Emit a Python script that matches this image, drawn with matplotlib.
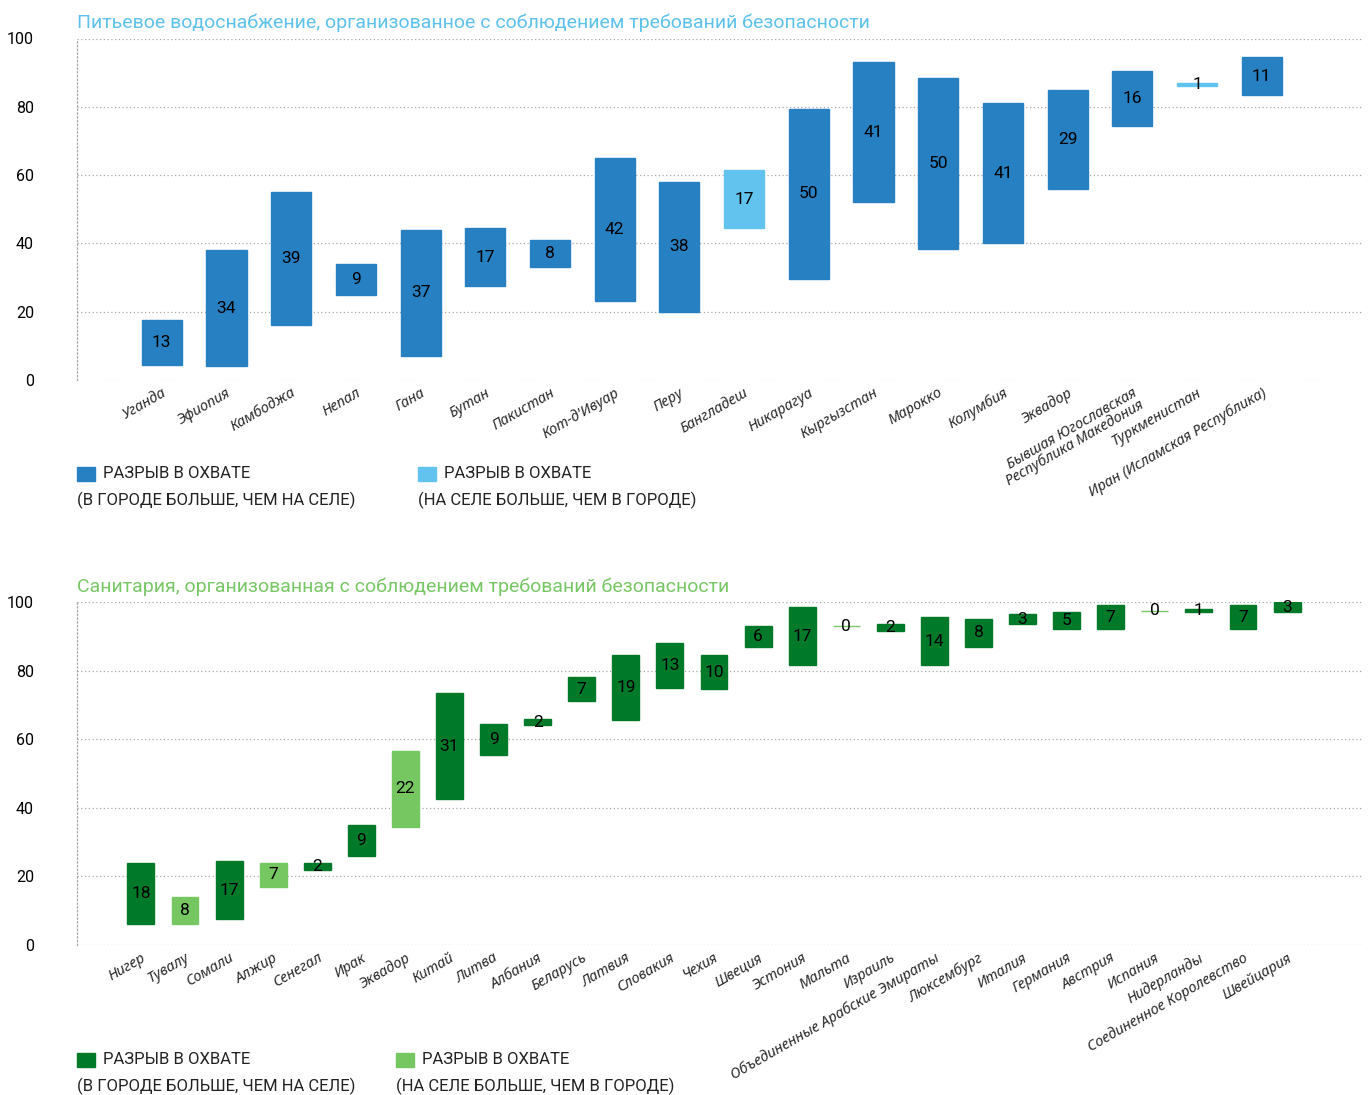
import matplotlib
matplotlib.use("Agg")
import matplotlib.pyplot as plt
from matplotlib.patches import Rectangle

plt.rcParams['font.family'] = ['Roboto', 'DejaVu Sans']

# drinking water: lower coverage value and the urban/rural gap
water_countries = ["Уганда", "Эфиопия", "Камбоджа", "Непал", "Гана", "Бутан",
                   "Пакистан", "Кот-д'Ивуар", "Перу", "Бангладеш", "Никарагуа",
                   "Кыргызстан", "Марокко", "Колумбия", "Эквадор",
                   "Бывшая Югославская\nРеспублика Македония", "Туркменистан",
                   "Иран (Исламская Республика)"]
water_low = [4.5, 4, 16, 25, 7, 27.5, 33, 23, 20, 44.5, 29.5, 52, 38.5, 40, 56, 74.5, 86, 83.5]
water_gap = [13, 34, 39, 9, 37, 17, 8, 42, 38, 17, 50, 41, 50, 41, 29, 16, 1, 11]
water_rural_higher = ["Бангладеш", "Туркменистан"]

# sanitation
san_countries = ["Нигер", "Тувалу", "Сомали", "Алжир", "Сенегал", "Ирак", "Эквадор",
                 "Китай", "Литва", "Албания", "Беларусь", "Латвия", "Словакия", "Чехия",
                 "Швеция", "Эстония", "Мальта", "Израиль",
                 "Объединенные Арабские Эмираты", "Люксембург", "Италия", "Германия",
                 "Австрия", "Испания", "Нидерланды", "Соединенное Королевство", "Швейцария"]
san_low = [6, 6, 7.5, 17, 22, 26, 34.5, 42.5, 55.5, 64, 71, 65.5, 75, 74.5, 87, 81.5,
           93, 91.5, 81.5, 87, 93.5, 92, 92, 97.5, 97, 92, 97]
san_gap = [18, 8, 17, 7, 2, 9, 22, 31, 9, 2, 7, 19, 13, 10, 6, 17, 0, 2, 14, 8, 3, 5, 7, 0, 1, 7, 3]
san_rural_higher = ["Тувалу", "Алжир", "Эквадор", "Мальта", "Испания"]

legend_title = "РАЗРЫВ В ОХВАТЕ"
legend_urban = "(В ГОРОДЕ БОЛЬШЕ, ЧЕМ НА СЕЛЕ)"
legend_rural = "(НА СЕЛЕ БОЛЬШЕ, ЧЕМ В ГОРОДЕ)"

W, H = 1369, 1095
fig = plt.figure(figsize=(W / 100, H / 100), dpi=100)


def fx(px):
    return px / W


def fy(py):
    return 1 - py / H


def gap_panel(rect, countries, low, gap, rural, dark, light, xlim, width, title, title_color):
    ax = fig.add_axes(rect)
    x = list(range(len(countries)))
    colors = [light if c in rural else dark for c in countries]
    ax.bar(x, gap, bottom=low, width=width, color=colors, edgecolor=colors,
           linewidth=1, zorder=3)
    for xi, lo, g in zip(x, low, gap):
        ax.text(xi, lo + g / 2, str(g), ha='center', va='center', fontsize=12.5,
                color='black', zorder=4)
    ax.set_xlim(*xlim)
    ax.set_ylim(0, 100)
    ax.set_yticks(range(0, 101, 20))
    ax.yaxis.grid(True, linestyle=(0, (1, 2)), color='#a8a8a8', linewidth=0.9)
    ax.set_axisbelow(True)
    for side in ['top', 'right', 'bottom']:
        ax.spines[side].set_visible(False)
    ax.spines['left'].set_linestyle((0, (1, 2)))
    ax.spines['left'].set_color('#a8a8a8')
    ax.spines['left'].set_linewidth(0.9)
    ax.tick_params(axis='y', length=0, pad=31, labelsize=11.5)
    ax.tick_params(axis='x', length=0, pad=4)
    ax.set_xticks(x)
    ax.set_xticklabels(countries, rotation=30, ha='right', rotation_mode='anchor',
                       fontsize=10.5, style='italic', color='#2a2a2a', linespacing=0.85,
                       family=['Noto Sans', 'DejaVu Sans'])
    ax.text(0, 1.045, title, transform=ax.transAxes, fontsize=14, color=title_color,
            ha='left', va='center')
    return ax


gap_panel([fx(77), fy(380), fx(1362) - fx(77), fy(38.5) - fy(380)],
          water_countries, water_low, water_gap, water_rural_higher,
          '#2680c2', '#62c4ee', (-1.31, 18.55), 0.62,
          "Питьевое водоснабжение, организованное с соблюдением требований безопасности",
          '#5cc2ec')

gap_panel([fx(77), fy(945), fx(1362) - fx(77), fy(602) - fy(945)],
          san_countries, san_low, san_gap, san_rural_higher,
          '#007a28', '#76c762', (-1.45, 27.7), 0.61,
          "Санитария, организованная с соблюдением требований безопасности",
          '#78c765')


def legend_block(px, py, color, note):
    fig.patches.append(Rectangle((fx(px), fy(py + 8)), fx(18), 14 / H,
                                 transform=fig.transFigure, color=color))
    fig.text(fx(px + 26), fy(py), legend_title, fontsize=12, va='center',
             color='#222222')
    fig.text(fx(px), fy(py + 27), note, fontsize=12, va='center', color='#222222')


legend_block(77, 473, '#2680c2', legend_urban)
legend_block(418, 473, '#62c4ee', legend_rural)
legend_block(77, 1059, '#007a28', legend_urban)
legend_block(396, 1059, '#76c762', legend_rural)

fig.savefig("out.png", dpi=100)
